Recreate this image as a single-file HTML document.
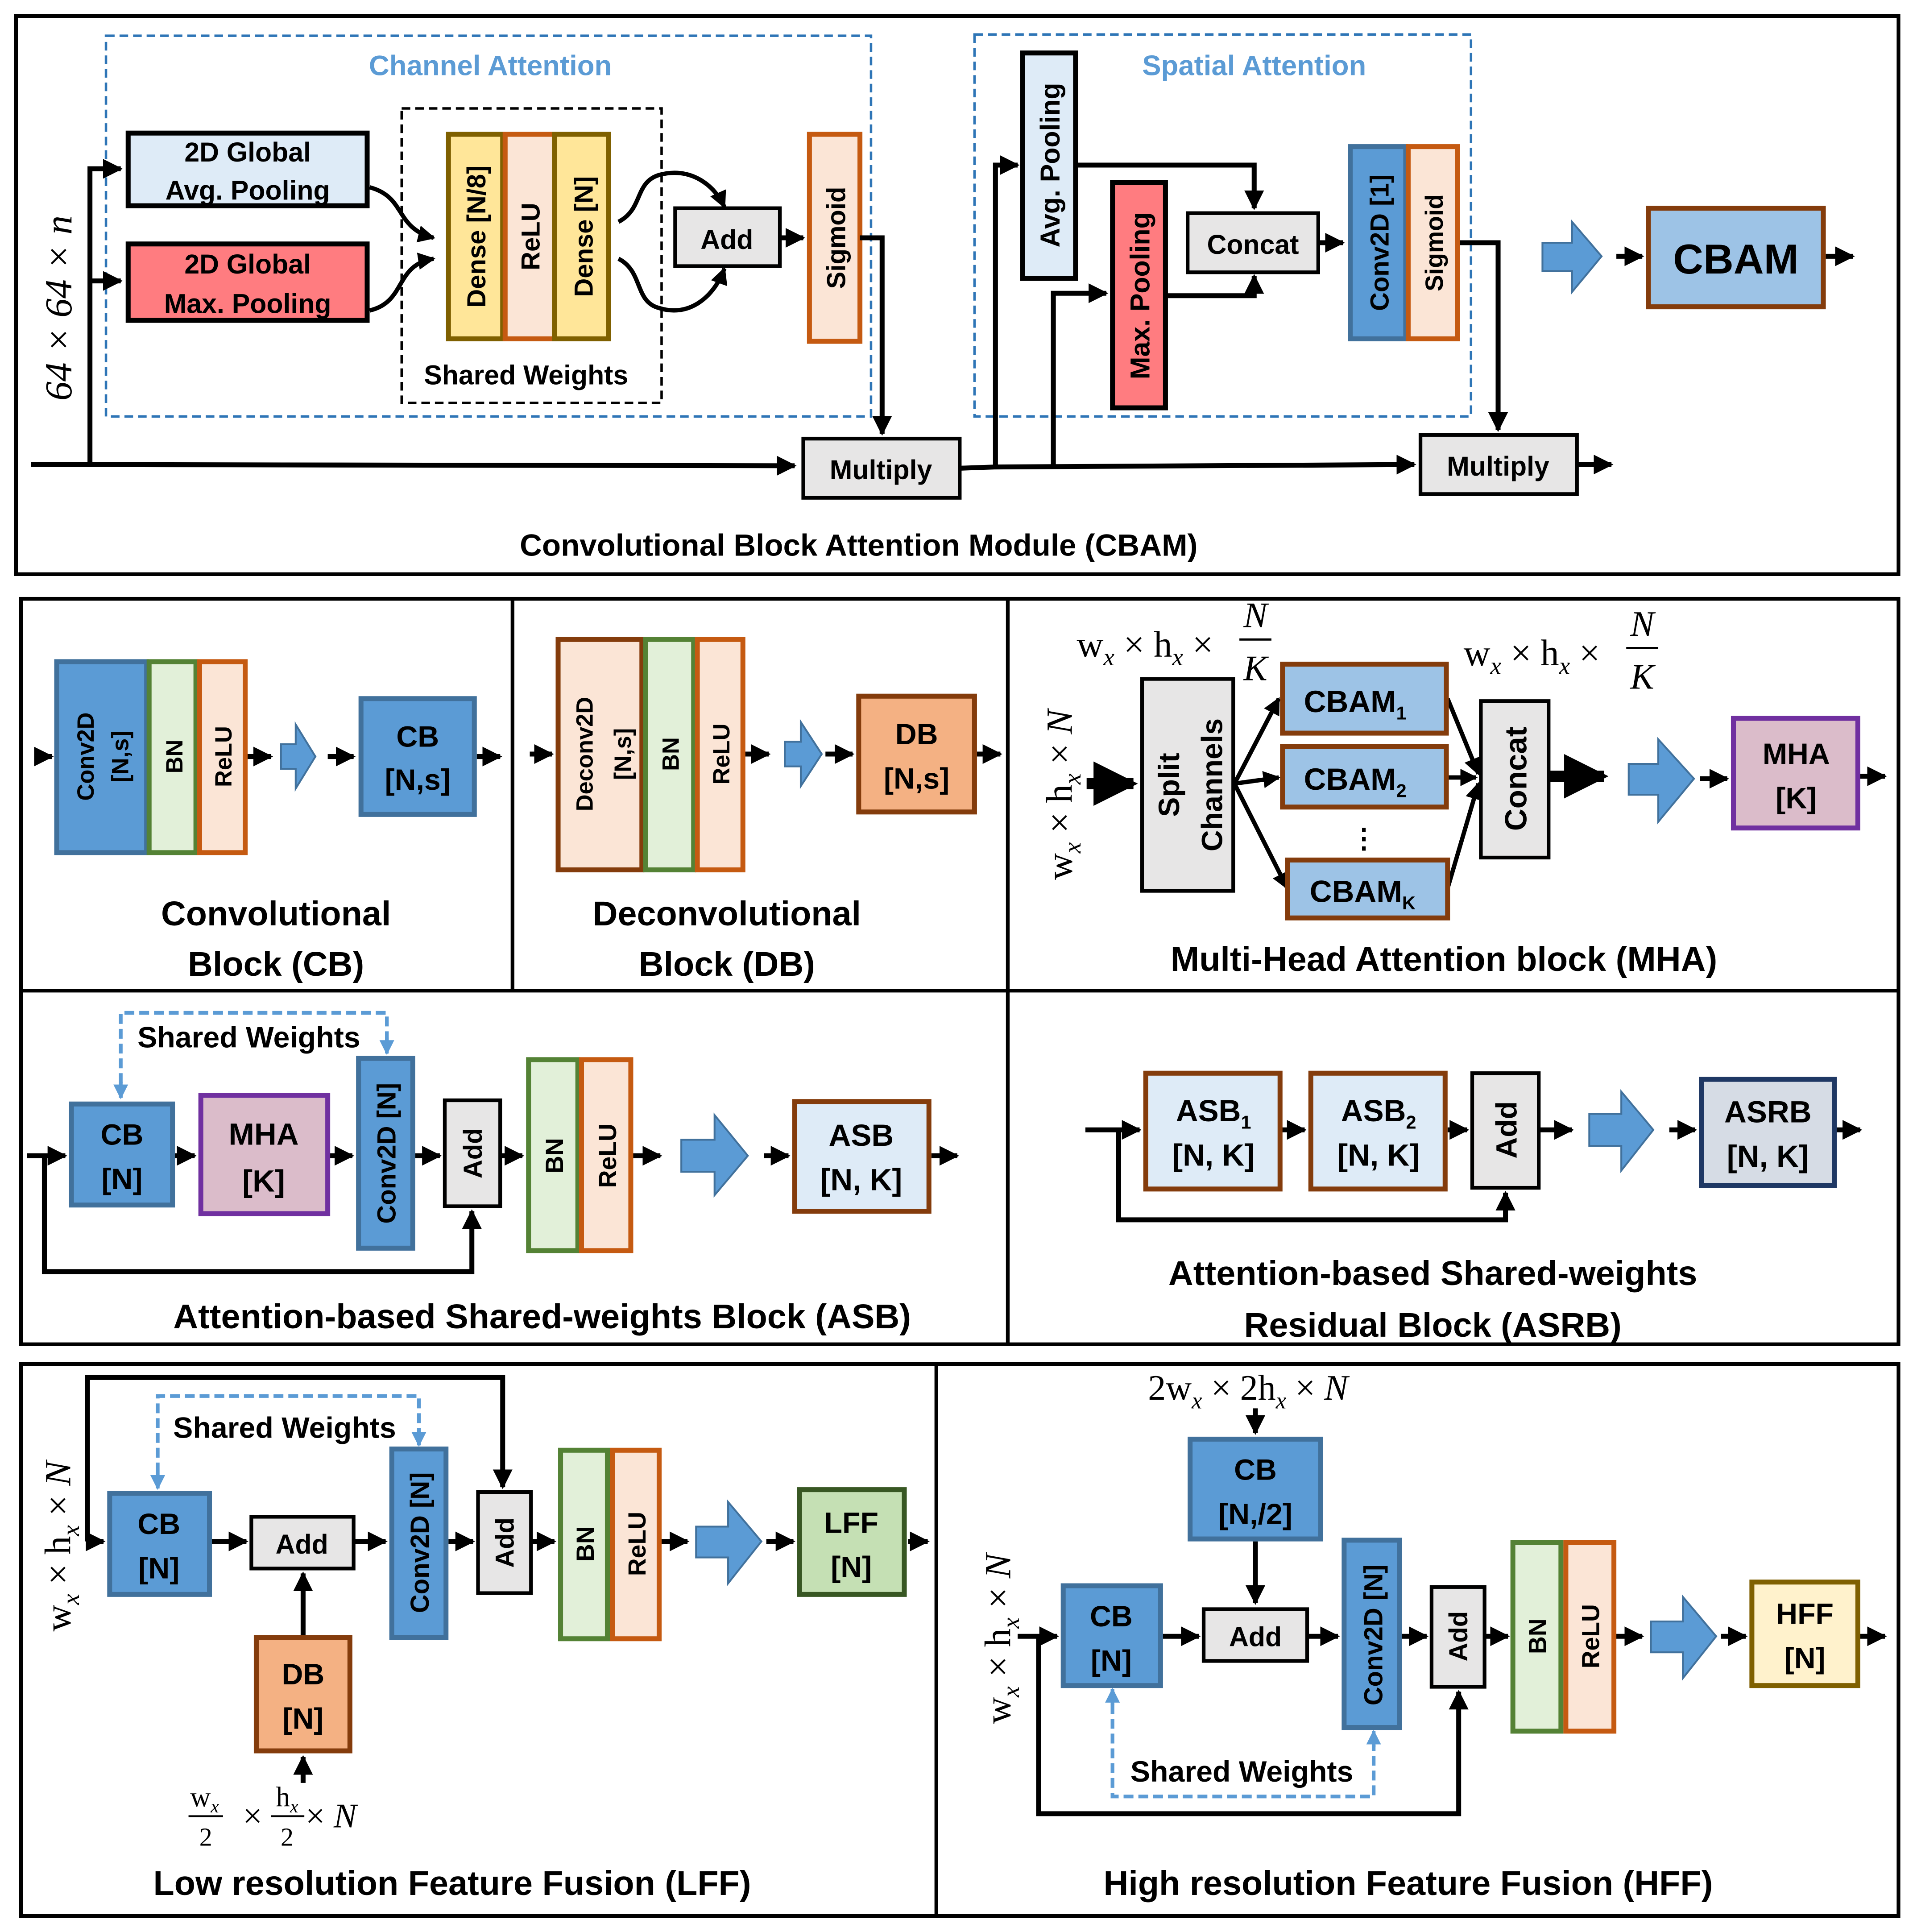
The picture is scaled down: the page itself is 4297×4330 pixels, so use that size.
<!DOCTYPE html>
<html><head><meta charset="utf-8"><style>
html,body{margin:0;padding:0;background:#fff}
svg{display:block}
text{font-family:"Liberation Sans",sans-serif;font-weight:bold;fill:#000}
.m{font-family:"Liberation Serif",serif;font-weight:normal}
.i{font-style:italic}
</style></head><body>
<svg width="4297" height="4330" viewBox="0 0 1556 1568" xmlns="http://www.w3.org/2000/svg">
<defs>
<marker id="a" markerWidth="4" markerHeight="4" refX="3.6" refY="2" orient="auto" markerUnits="strokeWidth"><path d="M0,0 L4,2 L0,4z" fill="#000"/></marker>
<marker id="b" markerWidth="4" markerHeight="4" refX="3.6" refY="2" orient="auto" markerUnits="strokeWidth"><path d="M0,0 L4,2 L0,4z" fill="#5b9bd5"/></marker>
</defs>
<rect width="1556" height="1568" fill="#fff"/>
<g fill="none" stroke="#000" stroke-width="3">
<rect x="13" y="13" width="1528" height="453"/>
<rect x="17" y="486" width="1524" height="605"/>
<line x1="416" y1="486" x2="416" y2="804"/>
<line x1="818" y1="486" x2="818" y2="1091"/>
<line x1="17" y1="804" x2="1541" y2="804"/>
<rect x="17" y="1107" width="1524" height="448"/>
<line x1="760" y1="1107" x2="760" y2="1555"/>
</g>

<!-- CBAM panel -->
<rect x="86" y="29" width="621" height="309" fill="none" stroke="#2e75b6" stroke-width="2" stroke-dasharray="7,4"/>
<rect x="791" y="28" width="403" height="310" fill="none" stroke="#2e75b6" stroke-width="2" stroke-dasharray="7,4"/>
<rect x="326" y="88" width="211" height="239" fill="none" stroke="#000" stroke-width="2" stroke-dasharray="7,4"/>
<text x="398" y="61" font-size="23" text-anchor="middle" style="fill:#5b9bd5">Channel Attention</text>
<text x="1018" y="61" font-size="23" text-anchor="middle" style="fill:#5b9bd5">Spatial Attention</text>
<text x="427" y="312" font-size="22" text-anchor="middle">Shared Weights</text>

<rect x="104" y="108" width="194" height="59" fill="#deebf7" stroke="#000" stroke-width="4"/>
<text x="201" y="131" font-size="22" text-anchor="middle">2D Global</text>
<text x="201" y="162" font-size="22" text-anchor="middle">Avg. Pooling</text>
<rect x="104" y="198" width="194" height="62" fill="#ff7c80" stroke="#000" stroke-width="4"/>
<text x="201" y="222" font-size="22" text-anchor="middle">2D Global</text>
<text x="201" y="254" font-size="22" text-anchor="middle">Max. Pooling</text>

<rect x="364" y="109" width="44" height="166" fill="#ffe699" stroke="#7f6000" stroke-width="4"/>
<rect x="410" y="109" width="40" height="166" fill="#fbe5d6" stroke="#c55a11" stroke-width="4"/>
<rect x="450" y="109" width="44" height="166" fill="#ffe699" stroke="#7f6000" stroke-width="4"/>
<text transform="translate(394,192) rotate(-90)" font-size="21" text-anchor="middle">Dense [N/8]</text>
<text transform="translate(438,192) rotate(-90)" font-size="21" text-anchor="middle">ReLU</text>
<text transform="translate(481,192) rotate(-90)" font-size="21" text-anchor="middle">Dense [N]</text>

<rect x="548" y="169" width="85" height="47" fill="#e7e6e6" stroke="#000" stroke-width="3"/>
<text x="590" y="202" font-size="22" text-anchor="middle">Add</text>
<rect x="657" y="109" width="41" height="168" fill="#fbe5d6" stroke="#c55a11" stroke-width="4"/>
<text transform="translate(686,193) rotate(-90)" font-size="21" text-anchor="middle">Sigmoid</text>
<rect x="652" y="356" width="127" height="48" fill="#e7e6e6" stroke="#000" stroke-width="3"/>
<text x="715" y="389" font-size="22" text-anchor="middle">Multiply</text>

<g fill="none" stroke="#000" stroke-width="4">
<path d="M25,377 L645,378" marker-end="url(#a)"/>
<path d="M73,377 L73,137 L98,137" marker-end="url(#a)"/>
<path d="M73,228 L98,228" marker-end="url(#a)"/>
<path d="M300,152 C330,160 320,185 352,193" stroke-width="3.5" marker-end="url(#a)"/>
<path d="M300,252 C330,245 320,215 352,210" stroke-width="3.5" marker-end="url(#a)"/>
<path d="M502,180 C522,170 515,148 535,142 C560,135 580,150 588,168" stroke-width="3.5" marker-end="url(#a)"/>
<path d="M502,210 C522,220 515,245 535,250 C560,258 580,240 588,218" stroke-width="3.5" marker-end="url(#a)"/>
<path d="M633,193 L652,193" marker-end="url(#a)"/>
<path d="M698,193 L716,193 L716,352" marker-end="url(#a)"/>
<path d="M779,380 L808,379 L808,134 L826,134" marker-end="url(#a)"/>
<path d="M808,379 L1148,377" marker-end="url(#a)"/>
<path d="M855,379 L855,238 L898,238" marker-end="url(#a)"/>
<path d="M874,134 L1018,134 L1018,169" marker-end="url(#a)"/>
<path d="M947,240 L1018,240 L1018,224" marker-end="url(#a)"/>
<path d="M1070,197 L1090,197" marker-end="url(#a)"/>
<path d="M1184,197 L1216,197 L1216,349" marker-end="url(#a)"/>
<path d="M1280,377 L1308,377" marker-end="url(#a)"/>
<path d="M1312,208 L1333,208" marker-end="url(#a)"/>
<path d="M1482,208 L1504,208" marker-end="url(#a)"/>
</g>
<rect x="830" y="43" width="43" height="183" fill="#deebf7" stroke="#000" stroke-width="4"/>
<text transform="translate(860,134) rotate(-90)" font-size="22" text-anchor="middle">Avg. Pooling</text>
<rect x="903" y="148" width="43" height="183" fill="#ff7c80" stroke="#000" stroke-width="4"/>
<text transform="translate(933,240) rotate(-90)" font-size="22" text-anchor="middle">Max. Pooling</text>
<rect x="964" y="173" width="106" height="48" fill="#e7e6e6" stroke="#000" stroke-width="3"/>
<text x="1017" y="206" font-size="22" text-anchor="middle">Concat</text>
<rect x="1096" y="119" width="45" height="156" fill="#5b9bd5" stroke="#41719c" stroke-width="4"/>
<text transform="translate(1127,197) rotate(-90)" font-size="21" text-anchor="middle">Conv2D [1]</text>
<rect x="1143" y="119" width="40" height="156" fill="#fbe5d6" stroke="#c55a11" stroke-width="4"/>
<text transform="translate(1171,197) rotate(-90)" font-size="20" text-anchor="middle">Sigmoid</text>
<rect x="1153" y="353" width="127" height="48" fill="#e7e6e6" stroke="#000" stroke-width="3"/>
<text x="1216" y="386" font-size="22" text-anchor="middle">Multiply</text>
<polygon points="1252,197 1276,197 1276,180 1300,208 1276,237 1276,220 1252,220" fill="#5b9bd5" stroke="#41719c" stroke-width="1.5"/>
<rect x="1338" y="169" width="142" height="80" fill="#9dc3e6" stroke="#843c0c" stroke-width="4"/>
<text x="1409" y="222" font-size="34" text-anchor="middle">CBAM</text>
<text class="m i" transform="translate(58,250) rotate(-90)" font-size="31" text-anchor="middle">64 × 64 × n</text>
<text x="697" y="451" font-size="25" text-anchor="middle">Convolutional Block Attention Module (CBAM)</text>

<!-- CB panel -->
<g fill="none" stroke="#000" stroke-width="4">
<path d="M28,614 L42,614" marker-end="url(#a)"/>
<path d="M200,614 L220,614" marker-end="url(#a)"/>
<path d="M266,614 L287,614" marker-end="url(#a)"/>
<path d="M387,614 L406,614" marker-end="url(#a)"/>
<path d="M430,612 L448,612" marker-end="url(#a)"/>
<path d="M604,612 L624,612" marker-end="url(#a)"/>
<path d="M670,612 L692,612" marker-end="url(#a)"/>
<path d="M793,612 L812,612" marker-end="url(#a)"/>
</g>
<rect x="46" y="537" width="73" height="155" fill="#5b9bd5" stroke="#41719c" stroke-width="4"/>
<text transform="translate(76,614) rotate(-90)" font-size="19" text-anchor="middle">Conv2D</text>
<text transform="translate(104,614) rotate(-90)" font-size="19" text-anchor="middle">[N,s]</text>
<rect x="121" y="537" width="38" height="155" fill="#e2f0d9" stroke="#548235" stroke-width="4"/>
<text transform="translate(148,614) rotate(-90)" font-size="19" text-anchor="middle">BN</text>
<rect x="162" y="537" width="37" height="155" fill="#fbe5d6" stroke="#c55a11" stroke-width="4"/>
<text transform="translate(188,614) rotate(-90)" font-size="19" text-anchor="middle">ReLU</text>
<polygon points="228,604 240,604 240,588 256,614 240,640 240,624 228,624" fill="#5b9bd5" stroke="#41719c" stroke-width="1.5"/>
<rect x="293" y="567" width="92" height="94" fill="#5b9bd5" stroke="#41719c" stroke-width="4"/>
<text x="339" y="606" font-size="24" text-anchor="middle">CB</text>
<text x="339" y="641" font-size="24" text-anchor="middle">[N,s]</text>
<text x="224" y="751" font-size="28" text-anchor="middle">Convolutional</text>
<text x="224" y="792" font-size="28" text-anchor="middle">Block (CB)</text>

<!-- DB panel -->
<rect x="453" y="519" width="68" height="187" fill="#fbe5d6" stroke="#843c0c" stroke-width="4"/>
<text transform="translate(481,612) rotate(-90)" font-size="19" text-anchor="middle">Deconv2D</text>
<text transform="translate(512,612) rotate(-90)" font-size="19" text-anchor="middle">[N,s]</text>
<rect x="524" y="519" width="39" height="187" fill="#e2f0d9" stroke="#548235" stroke-width="4"/>
<text transform="translate(551,612) rotate(-90)" font-size="19" text-anchor="middle">BN</text>
<rect x="566" y="519" width="37" height="187" fill="#fbe5d6" stroke="#c55a11" stroke-width="4"/>
<text transform="translate(592,612) rotate(-90)" font-size="19" text-anchor="middle">ReLU</text>
<polygon points="637,602 650,602 650,586 667,612 650,638 650,622 637,622" fill="#5b9bd5" stroke="#41719c" stroke-width="1.5"/>
<rect x="697" y="565" width="94" height="94" fill="#f4b183" stroke="#843c0c" stroke-width="4"/>
<text x="744" y="604" font-size="24" text-anchor="middle">DB</text>
<text x="744" y="640" font-size="24" text-anchor="middle">[N,s]</text>
<text x="590" y="751" font-size="28" text-anchor="middle">Deconvolutional</text>
<text x="590" y="792" font-size="28" text-anchor="middle">Block (DB)</text>

<!-- MHA panel -->
<text class="m" x="874" y="533" font-size="30">w<tspan class="i" font-size="20" dy="7">x</tspan><tspan dy="-7"> × h</tspan><tspan class="i" font-size="20" dy="7">x</tspan><tspan dy="-7"> ×</tspan></text>
<text class="m i" x="1019" y="509" font-size="29" text-anchor="middle">N</text>
<line x1="1006" y1="519" x2="1032" y2="519" stroke="#000" stroke-width="1.8"/>
<text class="m i" x="1019" y="552" font-size="29" text-anchor="middle">K</text>
<text class="m" x="1188" y="540" font-size="30">w<tspan class="i" font-size="20" dy="7">x</tspan><tspan dy="-7"> × h</tspan><tspan class="i" font-size="20" dy="7">x</tspan><tspan dy="-7"> ×</tspan></text>
<text class="m i" x="1333" y="516" font-size="29" text-anchor="middle">N</text>
<line x1="1320" y1="526" x2="1346" y2="526" stroke="#000" stroke-width="1.8"/>
<text class="m i" x="1333" y="559" font-size="29" text-anchor="middle">K</text>
<text class="m" transform="translate(870,645) rotate(-90)" font-size="30" text-anchor="middle">w<tspan class="i" font-size="20" dy="7">x</tspan><tspan dy="-7"> × h</tspan><tspan class="i" font-size="20" dy="7">x</tspan><tspan dy="-7"> × </tspan><tspan class="i">N</tspan></text>
<g fill="none" stroke="#000" stroke-width="4">
<path d="M882,636 L920,636" stroke-width="9" marker-end="url(#a)"/>
<path d="M1002,636 L1038,567" stroke-width="3.5" marker-end="url(#a)"/>
<path d="M1002,636 L1038,631" stroke-width="3.5" marker-end="url(#a)"/>
<path d="M1002,636 L1045,721" stroke-width="3.5" marker-end="url(#a)"/>
<path d="M1175,567 L1200,628" stroke-width="3.5" marker-end="url(#a)"/>
<path d="M1175,631 L1198,631" stroke-width="3.5" marker-end="url(#a)"/>
<path d="M1175,721 L1200,636" stroke-width="3.5" marker-end="url(#a)"/>
<path d="M1258,630 L1302,630" stroke-width="9" marker-end="url(#a)"/>
<path d="M1380,632 L1402,632" marker-end="url(#a)"/>
<path d="M1509,630 L1530,630" marker-end="url(#a)"/>
</g>
<rect x="927" y="551" width="74" height="172" fill="#e7e6e6" stroke="#000" stroke-width="3"/>
<text transform="translate(957,637) rotate(-90)" font-size="24" text-anchor="middle">Split</text>
<text transform="translate(992,637) rotate(-90)" font-size="24" text-anchor="middle">Channels</text>
<rect x="1041" y="539" width="133" height="56" fill="#9dc3e6" stroke="#843c0c" stroke-width="4"/>
<text x="1100" y="578" font-size="25" text-anchor="middle">CBAM<tspan font-size="15" dy="6">1</tspan></text>
<rect x="1041" y="606" width="133" height="49" fill="#9dc3e6" stroke="#843c0c" stroke-width="4"/>
<text x="1100" y="641" font-size="25" text-anchor="middle">CBAM<tspan font-size="15" dy="6">2</tspan></text>
<text x="1107" y="688" font-size="22" text-anchor="middle">⋮</text>
<rect x="1045" y="698" width="130" height="47" fill="#9dc3e6" stroke="#843c0c" stroke-width="4"/>
<text x="1106" y="732" font-size="25" text-anchor="middle">CBAM<tspan font-size="15" dy="6">K</tspan></text>
<rect x="1202" y="569" width="55" height="127" fill="#e7e6e6" stroke="#000" stroke-width="3"/>
<text transform="translate(1239,632) rotate(-90)" font-size="25" text-anchor="middle">Concat</text>
<polygon points="1322,620 1346,620 1346,600 1375,632 1346,667 1346,645 1322,645" fill="#5b9bd5" stroke="#41719c" stroke-width="1.5"/>
<rect x="1407" y="583" width="101" height="89" fill="#dbbcca" stroke="#7030a0" stroke-width="4"/>
<text x="1458" y="620" font-size="24" text-anchor="middle">MHA</text>
<text x="1458" y="656" font-size="24" text-anchor="middle">[K]</text>
<text x="1172" y="788" font-size="28" text-anchor="middle">Multi-Head Attention block (MHA)</text>

<!-- ASB panel -->
<path d="M98,891 L98,822 L314,822 L314,854" fill="none" stroke="#5b9bd5" stroke-width="3" stroke-dasharray="8,4"/>
<path d="M98,878 L98,891" fill="none" stroke="#5b9bd5" stroke-width="3" marker-end="url(#b)"/>
<path d="M314,842 L314,855" fill="none" stroke="#5b9bd5" stroke-width="3" marker-end="url(#b)"/>
<text x="202" y="850" font-size="24" text-anchor="middle">Shared Weights</text>
<g fill="none" stroke="#000" stroke-width="4">
<path d="M22,938 L53,938" marker-end="url(#a)"/>
<path d="M36,938 L36,1032 L383,1032 L383,983" marker-end="url(#a)"/>
<path d="M141,938 L158,938" marker-end="url(#a)"/>
<path d="M267,938 L286,938" marker-end="url(#a)"/>
<path d="M337,938 L357,938" marker-end="url(#a)"/>
<path d="M406,938 L424,938" marker-end="url(#a)"/>
<path d="M513,938 L536,938" marker-end="url(#a)"/>
<path d="M620,938 L640,938" marker-end="url(#a)"/>
<path d="M756,938 L777,938" marker-end="url(#a)"/>
</g>
<rect x="58" y="896" width="82" height="82" fill="#5b9bd5" stroke="#41719c" stroke-width="4"/>
<text x="99" y="929" font-size="24" text-anchor="middle">CB</text>
<text x="99" y="965" font-size="24" text-anchor="middle">[N]</text>
<rect x="163" y="889" width="103" height="96" fill="#dbbcca" stroke="#7030a0" stroke-width="4"/>
<text x="214" y="929" font-size="25" text-anchor="middle">MHA</text>
<text x="214" y="967" font-size="25" text-anchor="middle">[K]</text>
<rect x="291" y="859" width="44" height="154" fill="#5b9bd5" stroke="#41719c" stroke-width="4"/>
<text transform="translate(321,936) rotate(-90)" font-size="21" text-anchor="middle">Conv2D [N]</text>
<rect x="361" y="893" width="45" height="86" fill="#e7e6e6" stroke="#000" stroke-width="3"/>
<text transform="translate(391,936) rotate(-90)" font-size="21" text-anchor="middle">Add</text>
<rect x="429" y="860" width="40" height="155" fill="#e2f0d9" stroke="#548235" stroke-width="4"/>
<text transform="translate(457,938) rotate(-90)" font-size="20" text-anchor="middle">BN</text>
<rect x="472" y="860" width="40" height="155" fill="#fbe5d6" stroke="#c55a11" stroke-width="4"/>
<text transform="translate(500,938) rotate(-90)" font-size="20" text-anchor="middle">ReLU</text>
<polygon points="553,925 580,925 580,905 607,938 580,970 580,951 553,951" fill="#5b9bd5" stroke="#41719c" stroke-width="1.5"/>
<rect x="645" y="894" width="109" height="89" fill="#deebf7" stroke="#843c0c" stroke-width="4"/>
<text x="699" y="930" font-size="25" text-anchor="middle">ASB</text>
<text x="699" y="966" font-size="25" text-anchor="middle">[N, K]</text>
<text x="440" y="1078" font-size="28" text-anchor="middle">Attention-based Shared-weights Block (ASB)</text>

<!-- ASRB -->
<g fill="none" stroke="#000" stroke-width="4">
<path d="M881,917 L925,917" marker-end="url(#a)"/>
<path d="M908,917 L908,990 L1222,990 L1222,968" marker-end="url(#a)"/>
<path d="M1040,917 L1059,917" marker-end="url(#a)"/>
<path d="M1175,917 L1191,917" marker-end="url(#a)"/>
<path d="M1250,917 L1276,917" marker-end="url(#a)"/>
<path d="M1355,917 L1376,917" marker-end="url(#a)"/>
<path d="M1491,917 L1510,917" marker-end="url(#a)"/>
</g>
<rect x="930" y="871" width="109" height="94" fill="#deebf7" stroke="#843c0c" stroke-width="4"/>
<text x="985" y="910" font-size="25" text-anchor="middle">ASB<tspan font-size="15" dy="6">1</tspan></text>
<text x="985" y="946" font-size="25" text-anchor="middle">[N, K]</text>
<rect x="1064" y="871" width="109" height="94" fill="#deebf7" stroke="#843c0c" stroke-width="4"/>
<text x="1119" y="910" font-size="25" text-anchor="middle">ASB<tspan font-size="15" dy="6">2</tspan></text>
<text x="1119" y="946" font-size="25" text-anchor="middle">[N, K]</text>
<rect x="1195" y="871" width="54" height="93" fill="#e7e6e6" stroke="#000" stroke-width="3"/>
<text transform="translate(1231,917) rotate(-90)" font-size="24" text-anchor="middle">Add</text>
<polygon points="1290,904 1316,904 1316,886 1342,917 1316,950 1316,930 1290,930" fill="#5b9bd5" stroke="#41719c" stroke-width="1.5"/>
<rect x="1381" y="876" width="108" height="86" fill="#d6dce5" stroke="#1f3864" stroke-width="4"/>
<text x="1435" y="911" font-size="25" text-anchor="middle">ASRB</text>
<text x="1435" y="947" font-size="25" text-anchor="middle">[N, K]</text>
<text x="1163" y="1043" font-size="28" text-anchor="middle">Attention-based Shared-weights</text>
<text x="1163" y="1085" font-size="28" text-anchor="middle">Residual Block (ASRB)</text>

<!-- LFF -->
<path d="M128,1207 L128,1133 L340,1133 L340,1170" fill="none" stroke="#5b9bd5" stroke-width="3" stroke-dasharray="8,4"/>
<path d="M128,1195 L128,1208" fill="none" stroke="#5b9bd5" stroke-width="3" marker-end="url(#b)"/>
<path d="M340,1160 L340,1173" fill="none" stroke="#5b9bd5" stroke-width="3" marker-end="url(#b)"/>
<text x="231" y="1167" font-size="24" text-anchor="middle">Shared Weights</text>
<text class="m" transform="translate(57,1255) rotate(-90)" font-size="30" text-anchor="middle">w<tspan class="i" font-size="20" dy="7">x</tspan><tspan dy="-7"> × h</tspan><tspan class="i" font-size="20" dy="7">x</tspan><tspan dy="-7"> × </tspan><tspan class="i">N</tspan></text>
<g fill="none" stroke="#000" stroke-width="4">
<path d="M71,1251 L84,1251" marker-end="url(#a)"/>
<path d="M71,1251 L71,1118 L408,1118 L408,1207" marker-end="url(#a)"/>
<path d="M171,1251 L200,1251" marker-end="url(#a)"/>
<path d="M288,1251 L313,1251" marker-end="url(#a)"/>
<path d="M364,1251 L384,1251" marker-end="url(#a)"/>
<path d="M432,1251 L450,1251" marker-end="url(#a)"/>
<path d="M246,1327 L246,1277" marker-end="url(#a)"/>
<path d="M246,1447 L246,1426" marker-end="url(#a)"/>
<path d="M537,1251 L558,1251" marker-end="url(#a)"/>
<path d="M622,1251 L644,1251" marker-end="url(#a)"/>
<path d="M737,1251 L753,1251" marker-end="url(#a)"/>
</g>
<rect x="89" y="1212" width="81" height="82" fill="#5b9bd5" stroke="#41719c" stroke-width="4"/>
<text x="129" y="1245" font-size="24" text-anchor="middle">CB</text>
<text x="129" y="1281" font-size="24" text-anchor="middle">[N]</text>
<rect x="204" y="1231" width="83" height="42" fill="#e7e6e6" stroke="#000" stroke-width="3"/>
<text x="245" y="1261" font-size="22" text-anchor="middle">Add</text>
<rect x="208" y="1329" width="76" height="92" fill="#f4b183" stroke="#843c0c" stroke-width="4"/>
<text x="246" y="1367" font-size="24" text-anchor="middle">DB</text>
<text x="246" y="1403" font-size="24" text-anchor="middle">[N]</text>
<rect x="318" y="1176" width="44" height="153" fill="#5b9bd5" stroke="#41719c" stroke-width="4"/>
<text transform="translate(348,1252) rotate(-90)" font-size="21" text-anchor="middle">Conv2D [N]</text>
<rect x="388" y="1211" width="43" height="82" fill="#e7e6e6" stroke="#000" stroke-width="3"/>
<text transform="translate(417,1252) rotate(-90)" font-size="21" text-anchor="middle">Add</text>
<rect x="455" y="1177" width="38" height="153" fill="#e2f0d9" stroke="#548235" stroke-width="4"/>
<text transform="translate(482,1253) rotate(-90)" font-size="20" text-anchor="middle">BN</text>
<rect x="497" y="1177" width="38" height="153" fill="#fbe5d6" stroke="#c55a11" stroke-width="4"/>
<text transform="translate(524,1253) rotate(-90)" font-size="20" text-anchor="middle">ReLU</text>
<polygon points="565,1239 591,1239 591,1219 618,1251 591,1285 591,1264 565,1264" fill="#5b9bd5" stroke="#41719c" stroke-width="1.5"/>
<rect x="649" y="1209" width="85" height="85" fill="#c5e0b4" stroke="#385723" stroke-width="4"/>
<text x="691" y="1244" font-size="24" text-anchor="middle">LFF</text>
<text x="691" y="1280" font-size="24" text-anchor="middle">[N]</text>
<text class="m" x="166" y="1466" font-size="23" text-anchor="middle">w<tspan class="i" font-size="15" dy="5">x</tspan></text>
<line x1="153" y1="1474" x2="181" y2="1474" stroke="#000" stroke-width="1.5"/>
<text class="m" x="167" y="1498" font-size="21" text-anchor="middle">2</text>
<text class="m" x="205" y="1483" font-size="28" text-anchor="middle">×</text>
<text class="m" x="233" y="1466" font-size="23" text-anchor="middle">h<tspan class="i" font-size="15" dy="5">x</tspan></text>
<line x1="220" y1="1474" x2="247" y2="1474" stroke="#000" stroke-width="1.5"/>
<text class="m" x="233" y="1498" font-size="21" text-anchor="middle">2</text>
<text class="m" x="248" y="1483" font-size="28">× <tspan class="i">N</tspan></text>
<text x="367" y="1538" font-size="28" text-anchor="middle">Low resolution Feature Fusion (LFF)</text>

<!-- HFF -->
<text class="m" x="1013" y="1136" font-size="29" text-anchor="middle">2w<tspan class="i" font-size="19" dy="7">x</tspan><tspan dy="-7"> × 2h</tspan><tspan class="i" font-size="19" dy="7">x</tspan><tspan dy="-7"> × </tspan><tspan class="i">N</tspan></text>
<text class="m" transform="translate(820,1330) rotate(-90)" font-size="30" text-anchor="middle">w<tspan class="i" font-size="20" dy="7">x</tspan><tspan dy="-7"> × h</tspan><tspan class="i" font-size="20" dy="7">x</tspan><tspan dy="-7"> × </tspan><tspan class="i">N</tspan></text>
<path d="M903,1383 L903,1458 L1115,1458 L1115,1416" fill="none" stroke="#5b9bd5" stroke-width="3" stroke-dasharray="8,4"/>
<path d="M903,1384 L903,1371" fill="none" stroke="#5b9bd5" stroke-width="3" marker-end="url(#b)"/>
<path d="M1115,1418 L1115,1405" fill="none" stroke="#5b9bd5" stroke-width="3" marker-end="url(#b)"/>
<text x="1008" y="1446" font-size="24" text-anchor="middle">Shared Weights</text>
<g fill="none" stroke="#000" stroke-width="4">
<path d="M1019,1143 L1019,1163" marker-end="url(#a)"/>
<path d="M1019,1251 L1019,1301" marker-end="url(#a)"/>
<path d="M826,1328 L858,1328" marker-end="url(#a)"/>
<path d="M843,1328 L843,1472 L1184,1472 L1184,1373" marker-end="url(#a)"/>
<path d="M944,1328 L973,1328" marker-end="url(#a)"/>
<path d="M1062,1328 L1086,1328" marker-end="url(#a)"/>
<path d="M1138,1328 L1158,1328" marker-end="url(#a)"/>
<path d="M1206,1328 L1224,1328" marker-end="url(#a)"/>
<path d="M1311,1328 L1333,1328" marker-end="url(#a)"/>
<path d="M1397,1328 L1417,1328" marker-end="url(#a)"/>
<path d="M1510,1328 L1530,1328" marker-end="url(#a)"/>
</g>
<rect x="966" y="1168" width="106" height="81" fill="#5b9bd5" stroke="#41719c" stroke-width="4"/>
<text x="1019" y="1201" font-size="24" text-anchor="middle">CB</text>
<text x="1019" y="1237" font-size="24" text-anchor="middle">[N,/2]</text>
<rect x="977" y="1306" width="84" height="42" fill="#e7e6e6" stroke="#000" stroke-width="3"/>
<text x="1019" y="1336" font-size="22" text-anchor="middle">Add</text>
<rect x="863" y="1287" width="79" height="81" fill="#5b9bd5" stroke="#41719c" stroke-width="4"/>
<text x="902" y="1320" font-size="24" text-anchor="middle">CB</text>
<text x="902" y="1356" font-size="24" text-anchor="middle">[N]</text>
<rect x="1091" y="1250" width="45" height="152" fill="#5b9bd5" stroke="#41719c" stroke-width="4"/>
<text transform="translate(1122,1327) rotate(-90)" font-size="21" text-anchor="middle">Conv2D [N]</text>
<rect x="1162" y="1288" width="43" height="81" fill="#e7e6e6" stroke="#000" stroke-width="3"/>
<text transform="translate(1191,1328) rotate(-90)" font-size="21" text-anchor="middle">Add</text>
<rect x="1228" y="1252" width="39" height="153" fill="#e2f0d9" stroke="#548235" stroke-width="4"/>
<text transform="translate(1255,1328) rotate(-90)" font-size="20" text-anchor="middle">BN</text>
<rect x="1271" y="1252" width="39" height="153" fill="#fbe5d6" stroke="#c55a11" stroke-width="4"/>
<text transform="translate(1298,1328) rotate(-90)" font-size="20" text-anchor="middle">ReLU</text>
<polygon points="1340,1316 1366,1316 1366,1296 1393,1328 1366,1362 1366,1341 1340,1341" fill="#5b9bd5" stroke="#41719c" stroke-width="1.5"/>
<rect x="1422" y="1284" width="86" height="84" fill="#fff2cc" stroke="#7f6000" stroke-width="4"/>
<text x="1465" y="1318" font-size="24" text-anchor="middle">HFF</text>
<text x="1465" y="1354" font-size="24" text-anchor="middle">[N]</text>
<text x="1143" y="1538" font-size="28" text-anchor="middle">High resolution Feature Fusion (HFF)</text>
</svg>
</body></html>
